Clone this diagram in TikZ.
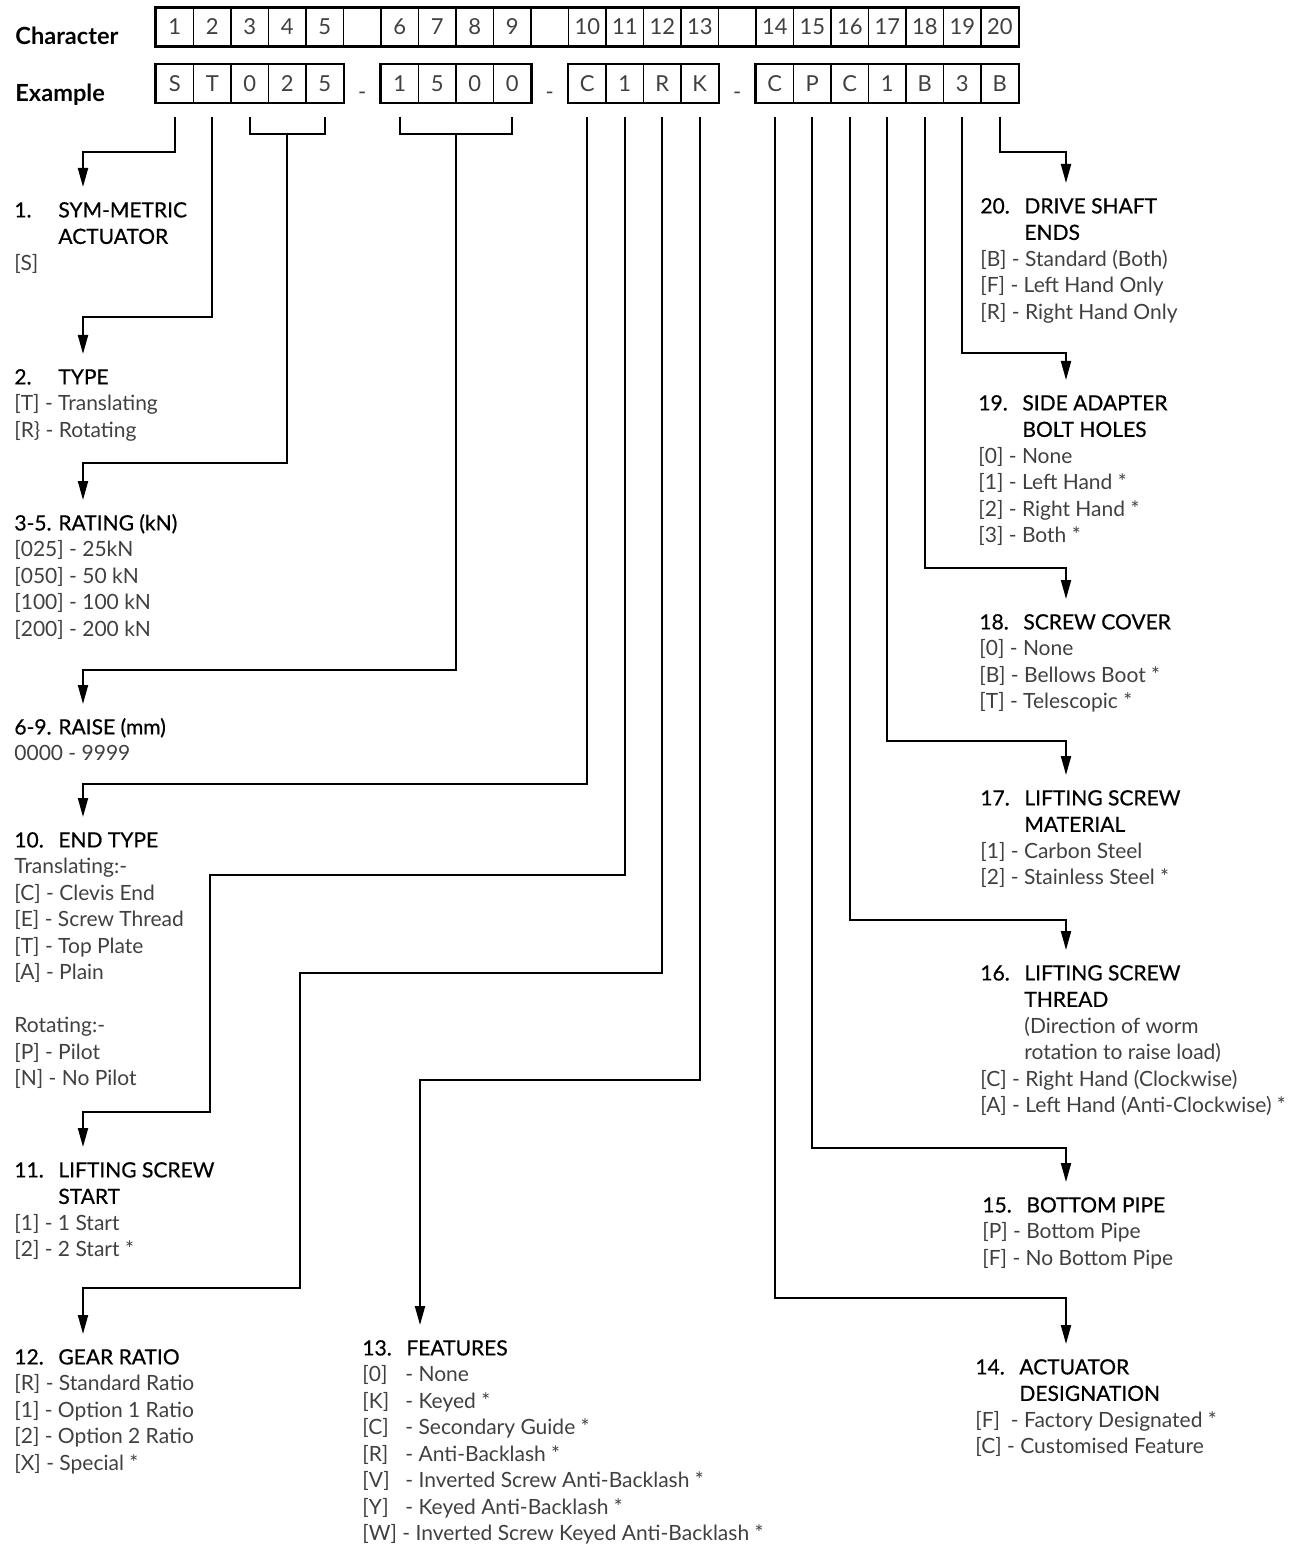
\documentclass[tikz,border=0pt]{standalone}
\usepackage{fontspec}
\setmainfont{Lato}
\newfontfamily\headfont[BoldFont=Lato, BoldFeatures={FakeBold=0.6}]{Lato}
\usetikzlibrary{arrows.meta,calc}

\newcommand{\hd}[2]{{\color{black}\headfont\bfseries\rule{0pt}{9pt}\makebox[22pt][l]{#1}#2}}
\newcommand{\hdi}[1]{{\color{black}\headfont\bfseries\hspace*{22pt}#1}}
\newcommand{\ind}{\hspace*{22pt}}
\newcommand{\ft}[1]{\makebox[21.5pt][l]{#1}}

\begin{document}
\begin{tikzpicture}[x=0.5pt,y=-0.5pt,
  cell/.style={draw, line width=0.5pt, minimum width=18.8pt, minimum height=19pt,
    inner sep=0pt, font=\fontsize{11}{12}\selectfont, text=black!75},
  dashsep/.style={inner sep=0pt, font=\fontsize{11}{12}\selectfont, text=black!75},
  group/.style={line width=1.4pt},
  wire/.style={line width=1pt},
  stub/.style={shorten <=7pt},
  wirearr/.style={wire, -{Triangle[length=9.5pt,width=5pt]}, shorten >=6pt},
  blk/.style={anchor=north west, align=left, inner sep=0pt,
    font=\fontsize{10.5}{13.25}\selectfont, text=black!75},
  rowlabel/.style={anchor=base west, inner sep=0pt, font=\fontsize{11.8}{13}\selectfont\bfseries}]
  \useasboundingbox (0,0) rectangle (1301,1545);

  % code rows
  \node[rowlabel] (lchar) at (15,45) {Character};
  \node[rowlabel] (lex) at (15,102) {Example};
  \foreach \k [count=\n] in {0,1,2,3,4,6,7,8,9,11,12,13,14,16,17,18,19,20,21,22}
    \node[cell] (c\n) at (174.75+37.5*\k,27) {\n};
  \foreach \k in {5,10,15}
    \node[cell] (cg\k) at (174.75+37.5*\k,27) {};
  \foreach \k/\t [count=\n] in {0/S,1/T,2/0,3/2,4/5,6/1,7/5,8/0,9/0,11/C,12/1,13/R,14/K,16/C,17/P,18/C,19/1,20/B,21/3,22/B}
    \node[cell] (e\n) at (174.75+37.5*\k,83.5) {\t};
  \foreach \k in {5,10,15}
    \node[dashsep] (d\k) at (174.75+37.5*\k,96) {-};
  \draw[group] (c1.north west) rectangle (c20.south east);
  \draw[group] (e1.north west) rectangle (e5.south east);
  \draw[group] (e6.north west) rectangle (e9.south east);
  \draw[group] (e10.north west) rectangle (e13.south east);
  \draw[group] (e14.north west) rectangle (e20.south east);

  % left column
  \node[blk] (h1) at (14,199) {\hd{1.}{SYM-METRIC}\\\hdi{ACTUATOR}\\{}[S]};
  \node[blk] (h2) at (14,366) {\hd{2.}{TYPE}\\{}[T] - Translating\\{}[R\} - Rotating};
  \node[blk] (h35) at (14,512) {\hd{3-5.}{RATING (kN)}\\{}[025] - 25kN\\{}[050] - 50 kN\\{}[100] - 100 kN\\{}[200] - 200 kN};
  \node[blk] (h69) at (14,716) {\hd{6-9.}{RAISE (mm)}\\0000 - 9999};
  \node[blk] (h10) at (14,829) {\hd{10.}{END TYPE}\\Translating:-\\{}[C] - Clevis End\\{}[E] - Screw Thread\\{}[T] - Top Plate\\{}[A] - Plain\\[13.25pt]Rotating:-\\{}[P] - Pilot\\{}[N] - No Pilot};
  \node[blk] (h11) at (14,1159) {\hd{11.}{LIFTING SCREW}\\\hdi{START}\\{}[1] - 1 Start\\{}[2] - 2 Start *};
  \node[blk] (h12) at (14,1346) {\hd{12.}{GEAR RATIO}\\{}[R] - Standard Ratio\\{}[1] - Option 1 Ratio\\{}[2] - Option 2 Ratio\\{}[X] - Special *};
  \node[blk] (h13) at (362,1337) {\hd{13.}{FEATURES}\\\ft{[0]}- None\\\ft{[K]}- Keyed *\\\ft{[C]}- Secondary Guide *\\\ft{[R]}- Anti-Backlash *\\\ft{[V]}- Inverted Screw Anti-Backlash *\\\ft{[Y]}- Keyed Anti-Backlash *\\{}[W] - Inverted Screw Keyed Anti-Backlash *};

  % right column
  \node[blk] (h20) at (980,195) {\hd{20.}{DRIVE SHAFT}\\\hdi{ENDS}\\{}[B] - Standard (Both)\\{}[F] - Left Hand Only\\{}[R] - Right Hand Only};
  \node[blk] (h19) at (978,392) {\hd{19.}{SIDE ADAPTER}\\\hdi{BOLT HOLES}\\{}[0] - None\\{}[1] - Left Hand *\\{}[2] - Right Hand *\\{}[3] - Both *};
  \node[blk] (h18) at (979,611) {\hd{18.}{SCREW COVER}\\{}[0] - None\\{}[B] - Bellows Boot *\\{}[T] - Telescopic *};
  \node[blk] (h17) at (980,787) {\hd{17.}{LIFTING SCREW}\\\hdi{MATERIAL}\\{}[1] - Carbon Steel\\{}[2] - Stainless Steel *};
  \node[blk] (h16) at (980,962) {\hd{16.}{LIFTING SCREW}\\\hdi{THREAD}\\\ind(Direction of worm\\\ind rotation to raise load)\\{}[C] - Right Hand (Clockwise)\\{}[A] - Left Hand (Anti-Clockwise) *};
  \node[blk] (h15) at (982,1194) {\hd{15.}{BOTTOM PIPE}\\{}[P] - Bottom Pipe\\{}[F] - No Bottom Pipe};
  \node[blk] (h14) at (975,1356) {\hd{14.}{ACTUATOR}\\\hdi{DESIGNATION}\\{}[F]\ \ - Factory Designated *\\{}[C] - Customised Feature};

  % bends
  \coordinate (b35) at (e4.south |- 0,134);
  \coordinate (b69) at (456,134);
  \coordinate (k1) at (83,152);
  \coordinate (k2) at (83,317);
  \coordinate (k35) at (83,463);
  \coordinate (k69) at (83,670);
  \coordinate (k10) at (83,784);
  \coordinate (m11) at (210,875);
  \coordinate (k11) at (83,1112);
  \coordinate (m12) at (300,973);
  \coordinate (k12) at (83,1288);
  \coordinate (m13) at (420,1080);
  \coordinate (k20) at (1066,152);
  \coordinate (k19) at (1066,353);
  \coordinate (k18) at (1066,568);
  \coordinate (k17) at (1066,741);
  \coordinate (k16) at (1066,920);
  \coordinate (k15) at (1066,1148);
  \coordinate (k14) at (1066,1298);

  % connectors
  \draw[wire,stub,shorten >=7pt] (e3.south) |- (b35) -| (e5.south);
  \draw[wire,stub,shorten >=7pt] (e6.south) |- (b69) -| (e9.south);
  \draw[wirearr,stub] (e1.south) |- (k1) -- (k1 |- h1.north);
  \draw[wirearr,stub] (e2.south) |- (k2) -- (k2 |- h2.north);
  \draw[wirearr] (b35) |- (k35) -- (k35 |- h35.north);
  \draw[wirearr] (b69) |- (k69) -- (k69 |- h69.north);
  \draw[wirearr,stub] (e10.south) |- (k10) -- (k10 |- h10.north);
  \draw[wirearr,stub] (e11.south) |- (m11) |- (k11) -- (k11 |- h11.north);
  \draw[wirearr,stub] (e12.south) |- (m12) |- (k12) -- (k12 |- h12.north);
  \draw[wirearr,stub] (e13.south) |- (m13) -- (m13 |- h13.north);
  \draw[wirearr,stub] (e14.south) |- (k14) -- (k14 |- h14.north);
  \draw[wirearr,stub] (e15.south) |- (k15) -- (k15 |- h15.north);
  \draw[wirearr,stub] (e16.south) |- (k16) -- (k16 |- h16.north);
  \draw[wirearr,stub] (e17.south) |- (k17) -- (k17 |- h17.north);
  \draw[wirearr,stub] (e18.south) |- (k18) -- (k18 |- h18.north);
  \draw[wirearr,stub] (e19.south) |- (k19) -- (k19 |- h19.north);
  \draw[wirearr,stub] (e20.south) |- (k20) -- (k20 |- h20.north);
\end{tikzpicture}
\end{document}
